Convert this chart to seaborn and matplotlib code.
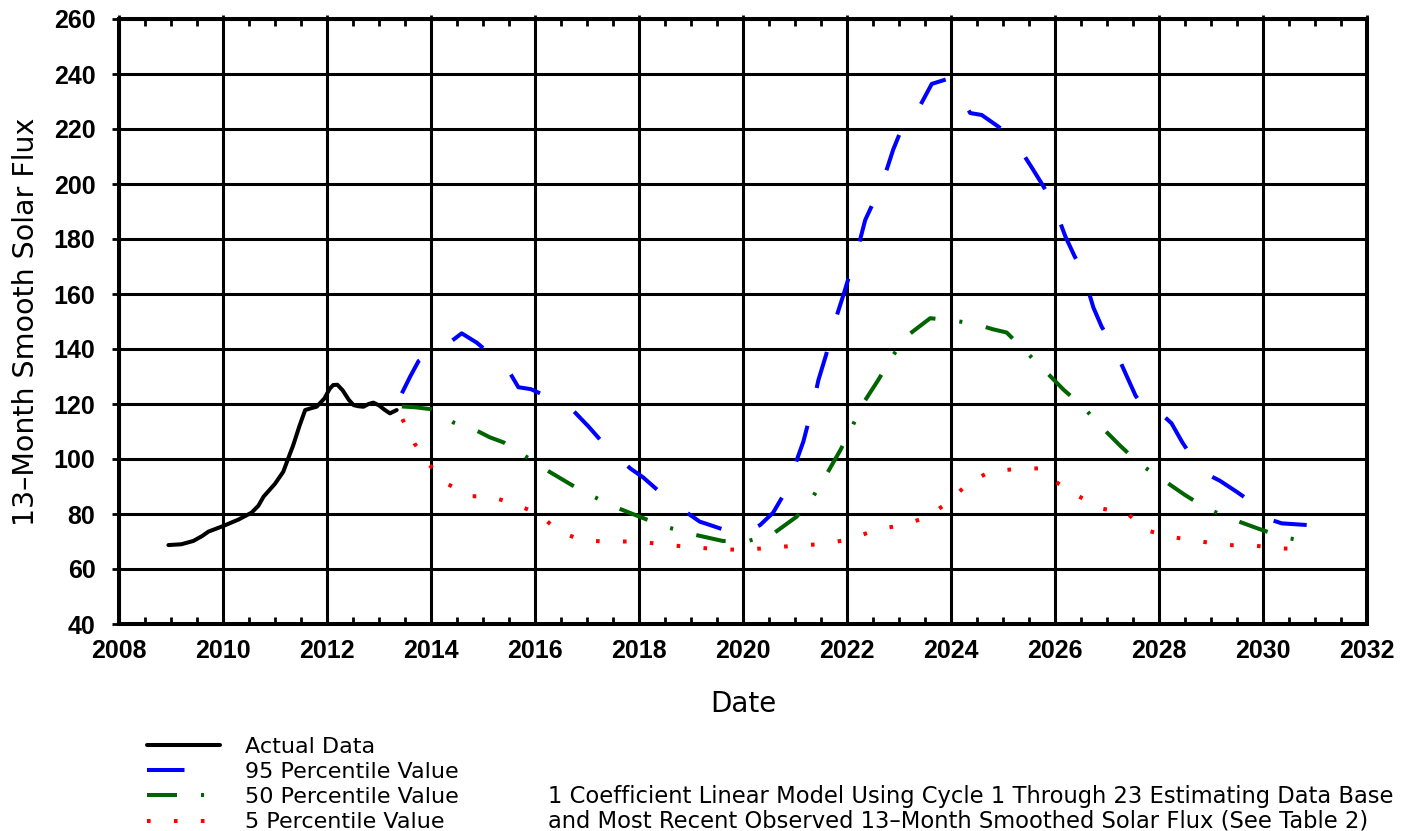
import numpy as np
import pandas as pd
import matplotlib
matplotlib.use('Agg')
import matplotlib.pyplot as plt
from matplotlib.ticker import MultipleLocator
import seaborn as sns

# Values (year, 13-month smoothed solar flux)
actual_year = [2008.95, 2009.2, 2009.43, 2009.6, 2009.72, 2010.0, 2010.3, 2010.55, 2010.68, 2010.78,
               2011.0, 2011.16, 2011.25, 2011.35, 2011.47, 2011.58, 2011.7, 2011.8, 2011.95, 2012.05,
               2012.12, 2012.2, 2012.3, 2012.42, 2012.51, 2012.6, 2012.7, 2012.8, 2012.89, 2013.0,
               2013.1, 2013.21, 2013.34]
actual_flux = [68.7, 69.0, 70.2, 72.0, 73.6, 75.6, 78.0, 80.5, 83.0, 86.3,
               91.0, 95.4, 100.0, 105.0, 112.0, 117.8, 118.5, 119.0, 122.0, 125.5,
               126.9, 127.0, 125.0, 121.5, 119.6, 119.2, 119.0, 120.0, 120.5, 119.5,
               118.0, 116.6, 117.8]

p95_year = [2013.44, 2013.6, 2013.76, 2014.0, 2014.3, 2014.59, 2014.88, 2015.15, 2015.44, 2015.68,
            2015.92, 2016.2, 2016.51, 2016.74, 2017.03, 2017.3, 2017.54, 2017.83, 2018.08, 2018.4,
            2018.66, 2018.92, 2019.17, 2019.27, 2019.6, 2020.01, 2020.33, 2020.58, 2020.75, 2020.92,
            2021.16, 2021.35, 2021.45, 2021.6, 2021.72, 2021.94, 2022.05, 2022.17, 2022.35, 2022.5,
            2022.67, 2022.89, 2023.05, 2023.21, 2023.4, 2023.63, 2023.9, 2024.15, 2024.37, 2024.59,
            2024.9, 2025.18, 2025.55, 2025.75, 2025.95, 2026.2, 2026.37, 2026.53, 2026.74, 2026.9,
            2027.09, 2027.39, 2027.55, 2027.72, 2027.86, 2028.24, 2028.45, 2028.66, 2028.92, 2029.17,
            2029.5, 2029.81, 2030.07, 2030.36, 2030.84]
p95_flux = [123.9, 130.0, 135.6, 139.0, 141.5, 145.7, 142.3, 138.0, 133.8, 126.1,
            125.4, 123.0, 120.0, 117.5, 111.8, 106.0, 101.7, 96.6, 93.3, 88.0,
            83.9, 80.5, 77.2, 76.6, 74.5, 73.0, 76.0, 80.5, 86.0, 93.6,
            106.3, 120.0, 128.7, 138.0, 147.2, 160.2, 167.0, 173.8, 186.9, 193.0,
            199.8, 212.6, 220.0, 225.8, 228.3, 236.4, 238.0, 233.0, 225.8, 225.1,
            221.0, 217.0, 206.1, 200.0, 193.6, 180.9, 174.0, 168.1, 155.0, 148.0,
            142.4, 129.7, 123.0, 118.5, 119.6, 113.0, 106.0, 100.0, 94.5, 92.1,
            88.0, 83.9, 78.4, 76.6, 76.0]

p50_year = [2013.44, 2013.7, 2014.01, 2014.43, 2014.88, 2015.13, 2015.4, 2015.81, 2016.22, 2016.71,
            2017.15, 2017.6, 2018.12, 2018.58, 2019.04, 2019.61, 2020.1, 2020.57, 2021.03, 2021.34,
            2021.6, 2021.88, 2022.1, 2022.31, 2022.6, 2022.87, 2023.15, 2023.6, 2024.08, 2024.54,
            2024.8, 2025.07, 2025.42, 2025.78, 2026.17, 2026.54, 2026.87, 2027.26, 2027.63, 2028.04,
            2028.5, 2028.92, 2029.37, 2029.89, 2030.38, 2030.84]
p50_flux = [119.1, 118.8, 118.1, 113.3, 110.3, 107.9, 106.0, 101.1, 96.0, 90.5,
            86.1, 82.1, 78.2, 75.0, 72.6, 70.2, 70.2, 72.7, 79.0, 86.1,
            94.2, 103.5, 111.8, 120.2, 128.7, 137.3, 144.7, 151.2, 150.3, 148.7,
            147.2, 146.0, 139.4, 132.6, 125.1, 119.0, 112.1, 104.7, 98.2, 92.9,
            86.9, 82.0, 78.4, 74.8, 71.6, 70.0]

p5_year = [2013.45, 2013.68, 2013.97, 2014.33, 2014.75, 2015.15, 2015.62, 2016.08, 2016.46, 2016.93,
           2017.44, 2017.95, 2018.47, 2018.98, 2019.49, 2020.01, 2020.54, 2021.04, 2021.56, 2022.07,
           2022.55, 2023.06, 2023.54, 2023.98, 2024.33, 2024.75, 2025.21, 2025.68, 2026.08, 2026.45,
           2026.9, 2027.4, 2027.79, 2028.29, 2028.8, 2029.31, 2029.83, 2030.34, 2030.84]
p5_flux = [114.5, 105.7, 97.8, 90.8, 86.5, 86.3, 83.6, 79.9, 73.6, 70.3,
           70.0, 70.0, 69.0, 67.9, 67.3, 66.9, 67.8, 68.5, 69.1, 70.9,
           74.2, 76.0, 78.8, 84.8, 91.2, 95.4, 96.3, 96.6, 90.9, 86.5,
           82.0, 80.0, 73.9, 71.5, 70.0, 68.7, 68.5, 67.5, 67.2]

x_ticks = list(range(2008, 2033, 2))
x_tick_labels = [str(t) for t in x_ticks]
y_ticks = list(range(40, 261, 20))
y_tick_labels = [str(t) for t in y_ticks]

note_lines = ['1 Coefficient Linear Model Using Cycle 1 Through 23 Estimating Data Base',
              'and Most Recent Observed 13\u2013Month Smoothed Solar Flux (See Table 2)']

sns.set_theme(style='white')
plt.rcParams['font.family'] = ['DejaVu Sans']
plt.rcParams['lines.scale_dashes'] = False
plt.rcParams['text.color'] = 'black'
plt.rcParams['axes.labelcolor'] = 'black'
plt.rcParams['xtick.color'] = 'black'
plt.rcParams['ytick.color'] = 'black'

W, H = 1405, 831
fig = plt.figure(figsize=(W / 100, H / 100), dpi=100)
ax = fig.add_axes([119 / W, 1 - 624 / H, (1367 - 119) / W, (624 - 19) / H])

lw = 2.9
series = [
    (actual_year, actual_flux, 'Actual Data', 'black', '-'),
    (p95_year, p95_flux, '95 Percentile Value', '#0000ff', (0, (27, 28))),
    (p50_year, p50_flux, '50 Percentile Value', '#006400', (0, (21.6, 17.3, 2.2, 17.3))),
    (p5_year, p5_flux, '5 Percentile Value', '#ff0000', (0, (2.6, 16.8))),
]
for yrs, vals, name, col, ls in series:
    df = pd.DataFrame({'year': yrs, 'flux': vals})
    sns.lineplot(data=df, x='year', y='flux', ax=ax, color=col, linewidth=lw,
                 linestyle=ls, label=name, estimator=None, legend=False)

ax.set_xlim(2008, 2032)
ax.set_ylim(40, 260)
ax.set_xticks(x_ticks, x_tick_labels, fontsize=18, fontweight='bold', fontfamily='Liberation Sans')
ax.set_yticks(y_ticks, y_tick_labels, fontsize=18, fontweight='bold', fontfamily='Liberation Sans')
ax.xaxis.set_minor_locator(MultipleLocator(0.5))

ax.set_axisbelow(True)
ax.grid(True, which='major', color='black', linewidth=2.2)
for sp in ax.spines.values():
    sp.set_color('black')
    sp.set_linewidth(2.9)

ax.tick_params(axis='x', which='major', direction='inout', length=6, width=2, pad=8, top=True)
ax.tick_params(axis='x', which='minor', direction='in', length=5, width=2, top=True, bottom=True)
ax.tick_params(axis='y', which='major', direction='out', length=5, width=2, pad=12, left=True)

ax.set_xlabel('Date', fontsize=20, labelpad=19)
ax.set_ylabel('13\u2013Month Smooth Solar Flux', fontsize=20.5, labelpad=10)

handles, labels = ax.get_legend_handles_labels()
fig.legend(handles, labels, loc='upper left', bbox_to_anchor=(147 / W, 1 - 737 / H),
           frameon=False, fontsize=16, handlelength=3.3, handletextpad=1.1,
           labelspacing=0.23, borderpad=0, borderaxespad=0)

fig.text(548 / W, 1 - 803 / H, note_lines[0], fontsize=16.3, va='baseline')
fig.text(548 / W, 1 - 828 / H, note_lines[1], fontsize=16.3, va='baseline')

fig.savefig('out.png', dpi=100)
